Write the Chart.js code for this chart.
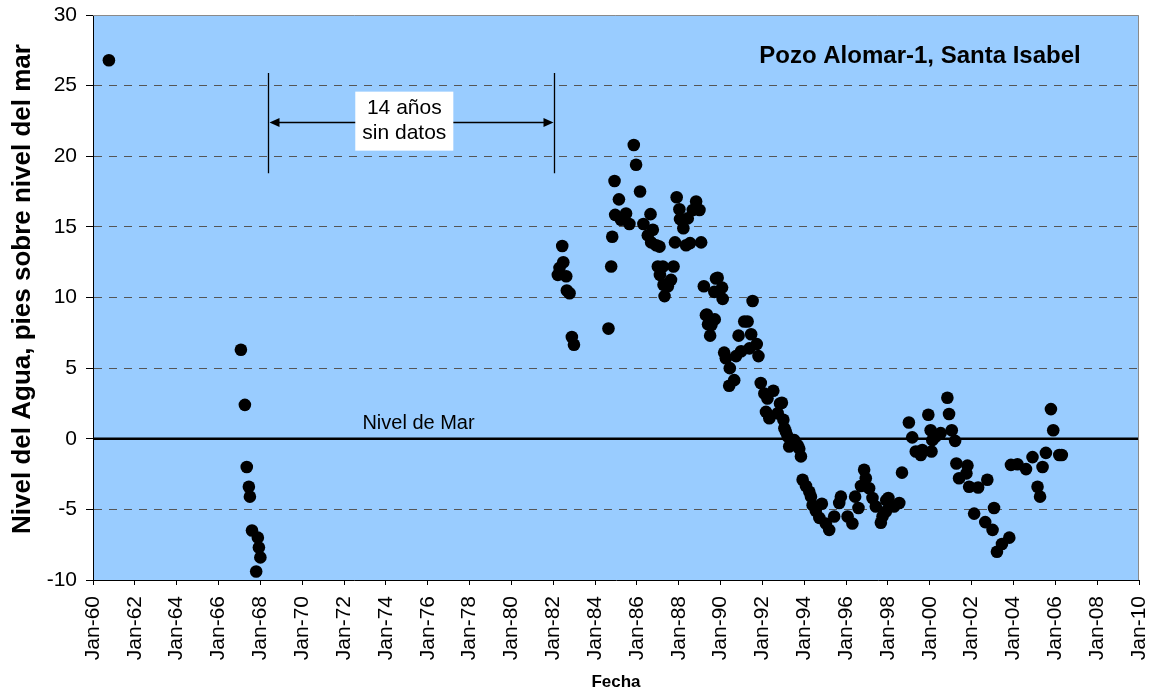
<!DOCTYPE html>
<html><head><meta charset="utf-8">
<script src="https://cdn.jsdelivr.net/npm/chart.js@4.4.1/dist/chart.umd.min.js"></script>
<style>html,body{margin:0;padding:0;background:#fff;}#wrap{width:1151px;height:694px;}</style>
</head><body><div id="wrap"><canvas id="c" width="1151" height="694"></canvas></div>
<script>
// Dates as decimal years, water level in feet above sea level
const fechas = [
  1960.76,
  1967.07, 1967.26, 1967.35, 1967.45, 1967.50, 1967.60, 1967.80, 1967.88, 1967.93, 1968.00,
  1982.22, 1982.30, 1982.43, 1982.48, 1982.62, 1982.65, 1982.78, 1982.89, 1982.99,
  1984.64, 1984.77, 1984.82, 1984.93, 1984.96, 1985.14, 1985.24, 1985.48, 1985.64, 1985.85,
  1985.96, 1986.15, 1986.31, 1986.52, 1986.65, 1986.68, 1986.76, 1986.92, 1987.00, 1987.08,
  1987.10, 1987.24, 1987.27, 1987.32, 1987.48, 1987.63, 1987.75, 1987.82, 1987.90, 1988.03,
  1988.06, 1988.22, 1988.35, 1988.43, 1988.54, 1988.67, 1988.83, 1988.99, 1989.07, 1989.20,
  1989.30, 1989.34, 1989.40, 1989.50, 1989.56, 1989.62, 1989.72, 1989.70, 1989.78, 1989.86,
  1990.07, 1990.10, 1990.17, 1990.25, 1990.41, 1990.44, 1990.65, 1990.74, 1990.86, 1990.98,
  1991.13, 1991.29, 1991.38, 1991.46, 1991.53, 1991.73, 1991.81, 1991.92, 1992.09, 1992.17,
  1992.24, 1992.33, 1992.52, 1992.73, 1992.84, 1992.93, 1993.00, 1993.05, 1993.12, 1993.21,
  1993.28, 1993.36, 1993.52, 1993.68, 1993.76, 1993.84, 1993.92, 1994.08, 1994.24, 1994.32,
  1994.40, 1994.55, 1994.72, 1994.84, 1995.03, 1995.19, 1995.43, 1995.67, 1995.75, 1996.07,
  1996.30, 1996.43, 1996.59, 1996.71, 1996.86, 1996.94, 1997.10, 1997.26, 1997.42, 1997.66,
  1997.74, 1997.90, 1997.92, 1998.02, 1998.29, 1998.54, 1998.67, 1999.00, 1999.16, 1999.33,
  1999.57, 1999.64, 1999.93, 2000.04, 2000.08, 2000.12, 2000.28, 2000.52, 2000.84, 2000.92,
  2001.05, 2001.21, 2001.27, 2001.40, 2001.75, 2001.80, 2001.88, 2002.12, 2002.31, 2002.65,
  2002.75, 2003.00, 2003.07, 2003.21, 2003.45, 2003.80, 2003.88, 2004.19, 2004.60, 2004.91,
  2005.15, 2005.27, 2005.39, 2005.55, 2005.79, 2005.90, 2006.19, 2006.31
];
const niveles = [
  26.8,
  6.3, 2.4, -2.0, -3.4, -4.1, -6.5, -9.4, -7.0, -7.7, -8.4,
  11.6, 12.1, 13.65, 12.5, 11.5, 10.5, 10.3, 7.2, 6.65,
  7.8, 12.2, 14.3, 18.25, 15.85, 16.95, 15.5, 15.95, 15.2, 20.8,
  19.4, 17.5, 15.2, 14.4, 15.9, 13.9, 14.8, 13.7, 12.2, 13.6,
  11.6, 12.2, 10.9, 10.1, 10.8, 11.25, 12.2, 13.9, 17.1, 16.25,
  15.55, 14.9, 13.7, 15.6, 13.85, 16.2, 16.8, 16.2, 13.9, 10.8,
  8.75, 8.8, 8.1, 7.3, 8.05, 8.4, 8.45, 10.4, 11.35, 11.4,
  10.7, 9.9, 6.1, 5.7, 3.75, 5.0, 4.15, 5.85, 7.3, 6.2,
  8.3, 8.3, 6.4, 7.4, 9.75, 6.7, 5.85, 3.95, 3.2, 1.9,
  2.85, 1.45, 3.4, 1.8, 2.5, 2.55, 1.35, 0.75, 0.5, 0.15,
  -0.55, -0.1, -0.1, -0.45, -0.7, -1.25, -2.9, -3.35, -3.75, -4.1,
  -4.7, -5.1, -5.6, -4.6, -6.0, -6.45, -5.5, -4.55, -4.1, -5.5,
  -6.0, -4.1, -4.9, -3.35, -2.2, -2.8, -3.5, -4.2, -4.8, -5.95,
  -5.5, -5.15, -4.35, -4.2, -4.8, -4.55, -2.4, 1.15, 0.1, -0.9,
  -1.15, -0.8, 1.7, 0.6, -0.9, -0.1, 0.15, 0.4, 2.9, 1.75,
  0.6, -0.15, -1.75, -2.8, -2.45, -1.9, -3.4, -5.3, -3.45, -5.9,
  -2.9, -6.45, -4.9, -8.0, -7.45, -7.0, -1.85, -1.8, -2.15, -1.3,
  -3.4, -4.1, -2.0, -1.0, 2.1, 0.6, -1.15, -1.15
];
const nivelMarX = [1960, 2010];
const nivelMarY = [0, 0];
const sinDatosInicio = 1968.38;
const sinDatosFin = 1982.05;
const sinDatosTexto = ['14 años', 'sin datos'];
const tituloPozo = 'Pozo Alomar-1, Santa Isabel';
const etiquetaMar = 'Nivel de Mar';
const tituloY = 'Nivel del Agua, pies sobre nivel del mar';

const FONT = '"Liberation Sans", Arial, sans-serif';
const puntos = fechas.map((f, i) => ({x: f, y: niveles[i]}));
const lineaMar = nivelMarX.map((x, i) => ({x, y: nivelMarY[i]}));

function sinPadding(s) {
  s.paddingLeft = 0; s.paddingRight = 0; s.paddingTop = 0; s.paddingBottom = 0;
}

const fondo = {
  id: 'fondo',
  beforeDraw(chart) {
    const {ctx, chartArea: a} = chart;
    ctx.save();
    ctx.fillStyle = '#99CCFF';
    ctx.fillRect(a.left, a.top, a.right - a.left, a.bottom - a.top);
    ctx.restore();
  },
  afterDraw(chart) {
    const {ctx, chartArea: a, scales: {x, y}} = chart;
    ctx.save();
    // frame top/right
    ctx.strokeStyle = '#8a8a8a';
    ctx.lineWidth = 1;
    ctx.beginPath();
    ctx.moveTo(a.left, a.top + 0.5);
    ctx.lineTo(a.right - 0.5, a.top + 0.5);
    ctx.lineTo(a.right - 0.5, a.bottom);
    ctx.stroke();

    // gap annotation
    const x1 = Math.round(x.getPixelForValue(sinDatosInicio)) + 0.5;
    const x2 = Math.round(x.getPixelForValue(sinDatosFin)) + 0.5;
    const yTop = y.getPixelForValue(25.9);
    const yBot = y.getPixelForValue(18.8);
    const yArr = Math.round(y.getPixelForValue(22.45)) + 0.5;
    ctx.strokeStyle = '#000';
    ctx.fillStyle = '#000';
    ctx.lineWidth = 1.3;
    ctx.beginPath();
    ctx.moveTo(x1, yTop); ctx.lineTo(x1, yBot);
    ctx.moveTo(x2, yTop); ctx.lineTo(x2, yBot);
    ctx.stroke();
    ctx.lineWidth = 1.6;
    ctx.beginPath();
    ctx.moveTo(x1 + 8, yArr); ctx.lineTo(x2 - 8, yArr);
    ctx.stroke();
    ctx.beginPath();
    ctx.moveTo(x1 + 1, yArr); ctx.lineTo(x1 + 11, yArr - 4.5); ctx.lineTo(x1 + 11, yArr + 4.5); ctx.closePath();
    ctx.fill();
    ctx.beginPath();
    ctx.moveTo(x2 - 1, yArr); ctx.lineTo(x2 - 11, yArr - 4.5); ctx.lineTo(x2 - 11, yArr + 4.5); ctx.closePath();
    ctx.fill();

    // label box
    const cx = x.getPixelForValue((sinDatosInicio + sinDatosFin) / 2) - 7;
    const cy = y.getPixelForValue(22.45) - 0.5;
    ctx.font = '21px ' + FONT;
    const w = Math.max(...sinDatosTexto.map(t => ctx.measureText(t).width)) + 14;
    const h = 59;
    ctx.fillStyle = '#fff';
    ctx.fillRect(cx - w / 2, cy - h / 2, w, h);
    ctx.fillStyle = '#000';
    ctx.textAlign = 'center';
    ctx.textBaseline = 'middle';
    ctx.fillText(sinDatosTexto[0], cx, cy - 12.5);
    ctx.fillText(sinDatosTexto[1], cx, cy + 12.5);

    // sea level label
    ctx.font = '20px ' + FONT;
    ctx.textBaseline = 'alphabetic';
    ctx.fillText(etiquetaMar, x.getPixelForValue(1975.56), y.getPixelForValue(0) - 10);

    // chart title
    ctx.font = 'bold 24px ' + FONT;
    ctx.textAlign = 'center';
    ctx.textBaseline = 'middle';
    ctx.fillText(tituloPozo, 920, 56);

    // y axis title
    ctx.translate(23, 289);
    ctx.rotate(-Math.PI / 2);
    ctx.font = 'bold 26px ' + FONT;
    ctx.fillText(tituloY, 0, 0);
    ctx.restore();
  }
};

new Chart(document.getElementById('c'), {
  type: 'scatter',
  data: {
    datasets: [
      { type: 'line', data: lineaMar, borderColor: '#000', borderWidth: 2.5, pointRadius: 0, order: 2 },
      { data: puntos, pointRadius: 6.3, pointHoverRadius: 6.3, backgroundColor: '#000', borderColor: '#000', borderWidth: 0, order: 1 }
    ]
  },
  options: {
    responsive: false,
    animation: false,
    events: [],
    layout: { padding: { top: 15, right: 12, left: 0, bottom: 0 } },
    plugins: { legend: { display: false }, tooltip: { enabled: false } },
    scales: {
      x: {
        type: 'linear', min: 1960, max: 2010, position: 'bottom',
        ticks: {
          stepSize: 2, minRotation: 90, maxRotation: 90, autoSkip: false, padding: 11,
          color: '#000', font: { family: FONT, size: 21 },
          callback: v => 'Jan-' + String(Math.round(v) % 100).padStart(2, '0')
        },
        grid: { drawOnChartArea: false, drawTicks: true, tickLength: 5, tickColor: '#000', color: '#000' },
        border: { display: true, color: '#000', width: 1 },
        title: { display: true, text: 'Fecha', color: '#000', font: { family: FONT, size: 17, weight: 'bold' }, padding: { top: 0, bottom: 1 } },
        afterFit(s) { s.height = 114; sinPadding(s); }
      },
      y: {
        min: -10, max: 30,
        ticks: { stepSize: 5, padding: 9, color: '#000', font: { family: FONT, size: 21 } },
        grid: {
          color: c => (c.tick && (c.tick.value === 30 || c.tick.value === -10)) ? 'rgba(0,0,0,0)' : '#555',
          lineWidth: 1, tickColor: '#000', tickLength: 7, tickBorderDash: [], borderDash: [8, 7]
        },
        border: { display: true, color: '#000', width: 1, dash: [8, 7] },
        title: { display: false },
        afterFit(s) { s.width = 93; sinPadding(s); }
      }
    }
  },
  plugins: [fondo]
});
</script>
</body></html>
